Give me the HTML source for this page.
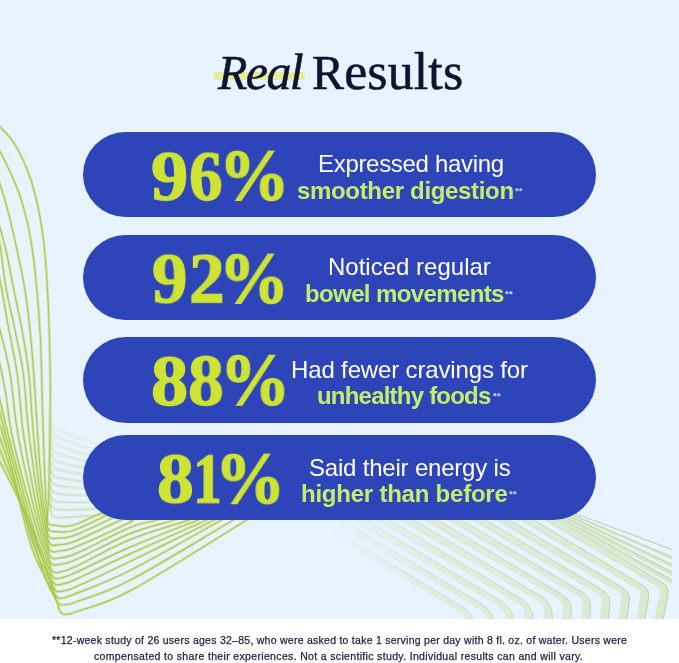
<!DOCTYPE html>
<html><head><meta charset="utf-8"><title>Real Results</title>
<style>
html,body{margin:0;padding:0;}
body{width:679px;height:663px;overflow:hidden;background:#fff;font-family:"Liberation Sans",sans-serif;position:relative;}
#bg{position:absolute;left:0;top:0;width:679px;height:619px;background:#e7f3fe;overflow:hidden;}
#deco{position:absolute;left:0;top:0;}
.pill{position:absolute;left:82.5px;width:513.7px;background:#2d45b8;border-radius:50px;}
.t{position:absolute;white-space:nowrap;line-height:1;transform-origin:0 0;will-change:transform;}
.g{font-family:"Liberation Serif",serif;font-weight:bold;color:#cee333;-webkit-text-stroke:1.4px #cee333;}
.l1{color:#fff;}
.l2{color:#c3ee6c;font-weight:bold;}
.st{color:#d5e0f7;font-weight:bold;}
.h{font-family:"Liberation Serif",serif;color:#0f1431;-webkit-text-stroke:0.55px #0f1431;}
.cap{font-size:0.923em;}
#foot{position:absolute;left:0;top:619px;width:679px;height:44px;background:#fff;}
.f{color:#1b2140;-webkit-text-stroke:0.25px #1b2140;}
</style></head><body>
<div id="bg">
<svg id="deco" width="679" height="619" viewBox="0 0 679 619"><g fill="none" stroke-linecap="round" stroke-linejoin="round">
<path d="M50.2,413.0C50.3,415.3 50.0,417.9 50.4,420.0C50.8,422.1 51.2,423.8 52.3,425.4C53.4,427.0 54.0,427.9 57.0,429.5C60.0,431.1 64.5,432.8 70.0,434.8C75.5,436.9 81.7,439.2 90.0,441.9C98.3,444.6 110.0,448.5 120.0,451.1C130.0,453.6 140.0,455.2 150.0,457.2" stroke="#b7d070" stroke-opacity="0.10" stroke-width="3.6"/>
<path d="M50.2,421.2C50.3,423.5 50.0,426.1 50.4,428.2C50.8,430.3 51.2,432.0 52.3,433.6C53.4,435.2 54.0,436.0 57.0,437.5C60.0,439.0 64.5,440.5 70.0,442.3C75.5,444.2 81.7,446.3 90.0,448.7C98.3,451.0 110.0,454.5 120.0,456.7C130.0,458.9 140.0,460.2 150.0,461.9" stroke="#b7d070" stroke-opacity="0.13" stroke-width="3.5"/>
<path d="M50.2,429.4C50.3,431.7 50.0,434.3 50.4,436.4C50.8,438.5 51.2,440.3 52.3,441.8C53.4,443.3 54.0,444.2 57.0,445.5C60.0,446.8 64.5,448.2 70.0,449.8C75.5,451.5 81.7,453.3 90.0,455.4C98.3,457.5 110.0,460.5 120.0,462.3C130.0,464.2 140.0,465.1 150.0,466.6" stroke="#b7d070" stroke-opacity="0.17" stroke-width="3.3"/>
<path d="M50.2,437.6C50.3,439.9 50.0,442.5 50.4,444.6C50.8,446.7 51.2,448.5 52.3,450.0C53.4,451.5 54.0,452.3 57.0,453.5C60.0,454.7 64.5,455.9 70.0,457.3C75.5,458.8 81.7,460.3 90.0,462.1C98.3,463.9 110.0,466.4 120.0,467.9C130.0,469.5 140.0,470.1 150.0,471.2" stroke="#b7d070" stroke-opacity="0.20" stroke-width="3.2"/>
<path d="M50.2,445.8C50.3,448.1 50.0,450.7 50.4,452.8C50.8,454.9 51.2,456.7 52.3,458.2C53.4,459.7 54.0,460.4 57.0,461.5C60.0,462.6 64.5,463.6 70.0,464.8C75.5,466.0 81.7,467.3 90.0,468.8C98.3,470.3 110.0,472.4 120.0,473.6C130.0,474.7 140.0,475.1 150.0,475.9" stroke="#b7d070" stroke-opacity="0.23" stroke-width="3.0"/>
<path d="M50.2,454.0C50.3,456.3 50.0,458.9 50.4,461.0C50.8,463.1 51.2,465.0 52.3,466.4C53.4,467.8 54.0,468.5 57.0,469.5C60.0,470.5 64.5,471.3 70.0,472.3C75.5,473.3 81.7,474.4 90.0,475.5C98.3,476.7 110.0,478.3 120.0,479.2C130.0,480.0 140.0,480.1 150.0,480.6" stroke="#b7d070" stroke-opacity="0.26" stroke-width="2.9"/>
<path d="M50.2,462.2C50.3,464.5 50.0,467.1 50.4,469.2C50.8,471.3 51.2,473.2 52.3,474.6C53.4,476.0 54.0,476.7 57.0,477.5C60.0,478.4 64.5,479.0 70.0,479.8C75.5,480.6 81.7,481.4 90.0,482.2C98.3,483.1 110.0,484.3 120.0,484.8C130.0,485.3 140.0,485.1 150.0,485.3" stroke="#b7d070" stroke-opacity="0.30" stroke-width="2.7"/>
<path d="M50.2,470.4C50.3,472.7 50.0,475.3 50.4,477.4C50.8,479.5 51.2,481.4 52.3,482.8C53.4,484.2 54.0,484.8 57.0,485.5C60.0,486.3 64.5,486.7 70.0,487.3C75.5,487.9 81.7,488.4 90.0,488.9C98.3,489.5 110.0,490.2 120.0,490.4C130.0,490.6 140.0,490.1 150.0,490.0" stroke="#b7d070" stroke-opacity="0.33" stroke-width="2.6"/>
<path d="M50.2,478.6C50.3,480.9 50.0,483.5 50.4,485.6C50.8,487.7 51.2,489.7 52.3,491.0C53.4,492.3 54.0,492.9 57.0,493.5C60.0,494.2 64.5,494.5 70.0,494.8C75.5,495.2 81.7,495.5 90.0,495.7C98.3,495.9 110.0,496.2 120.0,496.0C130.0,495.9 140.0,495.1 150.0,494.7" stroke="#b7d070" stroke-opacity="0.36" stroke-width="2.4"/>
<path d="M50.2,486.8C50.3,489.1 50.0,491.7 50.4,493.8C50.8,495.9 51.2,497.9 52.3,499.2C53.4,500.5 54.0,501.0 57.0,501.5C60.0,502.1 64.5,502.2 70.0,502.3C75.5,502.4 81.7,502.5 90.0,502.4C98.3,502.3 110.0,502.2 120.0,501.7C130.0,501.2 140.0,500.1 150.0,499.3" stroke="#b7d070" stroke-opacity="0.39" stroke-width="2.3"/>
<path d="M50.2,495.0C50.3,497.3 50.0,499.9 50.4,502.0C50.8,504.1 51.2,506.1 52.3,507.4C53.4,508.7 54.0,509.1 57.0,509.5C60.0,509.9 64.5,509.9 70.0,509.8C75.5,509.7 81.7,509.5 90.0,509.1C98.3,508.7 110.0,508.1 120.0,507.3C130.0,506.4 140.0,505.1 150.0,504.0" stroke="#b7d070" stroke-opacity="0.43" stroke-width="2.1"/>
<path d="M50.2,503.2C50.3,505.5 50.0,508.1 50.4,510.2C50.8,512.3 51.2,514.4 52.3,515.6C53.4,516.8 54.0,517.3 57.0,517.6C60.0,517.8 64.5,517.6 70.0,517.3C75.5,517.0 81.7,516.5 90.0,515.8C98.3,515.1 110.0,514.1 120.0,512.9C130.0,511.7 140.0,510.1 150.0,508.7" stroke="#b7d070" stroke-opacity="0.46" stroke-width="2.0"/>
<path d="M-4.0,454.0C-2.7,456.7 -5.1,451.8 0.0,462.0C5.1,472.2 20.5,502.0 26.5,515.0C32.5,528.0 32.1,529.2 36.0,540.0C39.9,550.8 46.3,570.3 49.6,580.0C52.9,589.7 53.5,592.3 55.6,598.0C57.7,603.7 60.1,608.9 62.4,614.3L60.2,604.5 L58.7,598.4 L57.0,591.6 L55.6,585.0 L54.9,578.8L54.9,578.8C47.9,562.5 41.6,553.1 34.0,530.0C26.4,506.9 15.2,461.7 9.5,440.0C3.8,418.3 2.2,408.3 0.0,400.0C-2.2,391.7 -2.7,393.3 -4.0,390.0Z" fill="#c3dc6e" fill-opacity="0.32" stroke="none"/>
<path d="M-4.0,123.5C-2.7,124.7 -3.0,123.8 0.0,127.0C3.0,130.2 9.5,135.9 14.0,143.0C18.5,150.1 23.4,160.1 27.1,169.3C30.8,178.5 33.3,186.2 36.0,198.0C38.7,209.8 41.5,223.0 43.5,240.0C45.5,257.0 46.9,277.5 48.0,300.0C49.1,322.5 49.9,351.7 50.2,375.0C50.5,398.3 50.1,420.0 49.8,440.0C49.5,460.0 49.0,481.9 48.6,495.0C48.2,508.1 47.7,510.6 47.2,518.4Q46.8,525.4 53.8,525.2C60.9,525.0 62.5,528.9 75.2,524.5C87.9,520.1 114.2,506.2 130.0,499.0C145.8,491.8 156.7,487.0 170.0,481.0" stroke="#cbe274" stroke-opacity="0.55" stroke-width="3.0"/>
<path d="M-5.0,145.0C-3.3,147.2 -2.7,146.8 0.0,151.6C2.7,156.4 7.7,166.8 11.0,174.0C14.3,181.2 16.7,185.7 19.7,195.0C22.7,204.3 26.4,216.7 29.0,230.0C31.6,243.3 33.6,256.7 35.5,275.0C37.4,293.3 39.3,317.5 40.5,340.0C41.7,362.5 41.7,384.2 42.5,410.0C43.3,435.8 44.7,475.8 45.5,495.0C46.3,514.2 46.7,515.1 47.3,525.2Q47.7,532.2 54.7,531.6C61.5,531.0 62.6,534.4 75.2,529.8C87.8,525.2 114.2,511.3 130.0,504.0C145.8,496.7 156.7,492.0 170.0,486.0" stroke="#cbe274" stroke-opacity="0.55" stroke-width="3.0"/>
<path d="M-4.0,176.0C-2.7,178.7 -2.2,177.7 0.0,184.2C2.2,190.7 6.2,204.0 9.0,215.0C11.8,226.0 14.3,237.5 17.0,250.0C19.7,262.5 22.7,275.0 25.0,290.0C27.3,305.0 29.2,321.7 31.0,340.0C32.8,358.3 34.2,380.8 35.5,400.0C36.8,419.2 37.8,438.3 39.0,455.0C40.2,471.7 41.6,487.1 43.0,500.0C44.4,512.9 46.0,521.8 47.5,532.7Q48.4,539.6 55.3,538.4C61.9,537.3 62.8,539.9 75.2,535.1C87.6,530.3 114.2,516.9 130.0,509.6C145.8,502.4 156.7,497.6 170.0,491.6" stroke="#cbe274" stroke-opacity="0.55" stroke-width="3.0"/>
<path d="M-4.0,218.0C-2.7,221.2 -1.8,221.4 0.0,227.6C1.8,233.8 4.8,244.9 7.0,255.0C9.2,265.1 11.0,275.5 13.5,288.0C16.0,300.5 19.4,315.5 22.0,330.0C24.6,344.5 27.1,357.5 29.0,375.0C30.9,392.5 31.4,413.3 33.5,435.0C35.6,456.7 39.1,487.5 41.5,505.0C43.9,522.5 45.8,528.1 47.9,539.7Q49.2,546.6 56.0,545.2C62.4,543.8 62.9,546.0 75.2,541.1C87.5,536.2 114.2,522.9 130.0,515.6C145.8,508.4 156.7,503.6 170.0,497.6" stroke="#cbe274" stroke-opacity="0.55" stroke-width="3.0"/>
<path d="M-4.0,235.0C-2.7,238.3 -1.7,236.2 0.0,245.0C1.7,253.8 3.5,273.8 6.0,288.0C8.5,302.2 12.1,315.5 15.0,330.0C17.9,344.5 21.2,357.5 23.5,375.0C25.8,392.5 26.2,412.5 29.0,435.0C31.8,457.5 36.8,491.4 40.0,510.0C43.2,528.6 45.5,534.3 48.3,546.5Q49.8,553.3 56.6,551.6C62.8,550.1 63.0,552.0 75.2,547.1C87.4,542.2 120.6,526.8 130.0,522.3C139.4,517.8 124.8,523.7 131.8,520.0C138.8,516.3 158.5,506.7 171.8,500.0" stroke="#cbe274" stroke-opacity="0.55" stroke-width="3.0"/>
<path d="M-4.0,268.0C-2.7,272.0 -2.0,270.5 0.0,280.0C2.0,289.5 5.1,309.2 8.0,325.0C10.9,340.8 14.8,356.7 17.4,375.0C20.0,393.3 20.1,411.7 23.6,435.0C27.1,458.3 34.3,495.3 38.5,515.0C42.7,534.7 45.4,540.6 48.9,553.3Q50.7,560.1 57.5,558.4C63.4,556.9 63.1,559.0 75.2,553.9C87.3,548.8 116.4,533.1 130.0,527.5C143.6,521.9 145.7,523.2 156.8,520.0C167.9,516.8 183.5,512.0 196.8,508.0" stroke="#cbe274" stroke-opacity="0.55" stroke-width="3.0"/>
<path d="M-4.0,318.0C-2.7,322.0 -2.4,320.5 0.0,330.0C2.4,339.5 7.3,357.5 10.3,375.0C13.3,392.5 13.6,410.8 18.0,435.0C22.4,459.2 31.8,499.2 37.0,520.0C42.2,540.8 45.2,546.6 49.3,559.9Q51.4,566.6 58.1,564.7C63.8,563.2 63.2,565.2 75.2,560.0C87.2,554.8 113.5,540.3 130.0,533.6C146.6,526.9 160.4,524.3 174.5,520.0C188.6,515.7 201.2,511.9 214.5,507.8" stroke="#cbe274" stroke-opacity="0.55" stroke-width="3.0"/>
<path d="M-4.0,352.0C-2.7,356.3 -1.7,357.8 0.0,365.0C1.7,372.2 3.8,382.5 6.0,395.0C8.2,407.5 8.1,418.3 13.0,440.0C17.9,461.7 29.3,503.7 35.5,525.0C41.7,546.3 45.5,553.5 50.5,567.8Q52.8,574.4 59.4,572.2C64.7,570.4 63.4,572.2 75.2,566.8C87.0,561.4 111.0,547.4 130.0,539.6C149.0,531.8 172.7,525.5 189.2,520.0C205.7,514.5 215.9,511.2 229.2,506.8" stroke="#cbe274" stroke-opacity="0.55" stroke-width="3.0"/>
<path d="M-4.0,390.0C-2.7,393.3 -2.2,391.7 0.0,400.0C2.2,408.3 3.8,418.3 9.5,440.0C15.2,461.7 27.1,507.7 34.0,530.0C40.9,552.3 45.4,559.3 51.2,573.9Q53.7,580.4 60.3,578.1C65.3,576.3 63.6,578.0 75.2,572.8C86.8,567.6 109.5,555.9 130.0,547.1C150.5,538.3 180.0,527.2 198.0,520.0C216.0,512.8 224.7,509.4 238.0,504.1" stroke="#cbe274" stroke-opacity="0.55" stroke-width="3.0"/>
<path d="M-4.0,403.0C-2.7,406.3 -1.8,406.8 0.0,413.0C1.8,419.2 1.5,419.7 7.0,440.0C12.5,460.3 25.5,511.6 33.0,535.0C40.5,558.4 45.5,565.1 51.7,580.1Q54.4,586.6 61.0,584.4C65.8,582.8 63.7,584.7 75.2,579.6C86.7,574.5 108.0,563.8 130.0,553.9C151.9,544.0 187.4,528.6 206.9,520.0C226.4,511.4 233.6,508.2 246.9,502.4" stroke="#cbe274" stroke-opacity="0.55" stroke-width="3.0"/>
<path d="M-4.0,417.0C-2.7,420.0 -1.4,422.2 0.0,426.0C1.4,429.8 -0.9,420.7 4.5,440.0C9.9,459.3 24.4,517.5 32.5,542.0C40.6,566.5 46.1,571.9 52.9,586.8Q55.8,593.2 62.5,591.1C66.7,589.8 63.9,592.0 75.2,587.1C86.5,582.2 106.8,572.7 130.0,561.5C153.2,550.3 193.6,530.2 214.3,520.0C235.0,509.8 241.0,506.9 254.3,500.3" stroke="#cbe274" stroke-opacity="0.55" stroke-width="3.0"/>
<path d="M-4.0,430.0C-2.7,432.7 -3.0,429.7 0.0,438.0C3.0,446.3 8.6,461.3 14.0,480.0C19.4,498.7 25.8,531.0 32.5,550.0C39.2,569.0 47.1,579.2 54.4,593.7Q57.5,600.0 64.1,597.7C67.8,596.4 64.2,598.4 75.2,593.9C86.2,589.4 105.6,582.8 130.0,570.5C154.4,558.2 199.7,532.1 221.6,520.0C243.5,507.9 248.3,505.3 261.6,497.9" stroke="#cbe274" stroke-opacity="0.55" stroke-width="3.0"/>
<path d="M-4.0,442.0C-2.7,444.7 -4.0,440.3 0.0,450.0C4.0,459.7 14.2,484.2 20.0,500.0C25.8,515.8 30.2,531.7 34.5,545.0C38.8,558.3 42.4,570.9 46.0,580.0C49.6,589.1 52.6,593.2 55.9,599.8Q59.0,606.1 65.8,604.5C68.9,603.7 64.5,606.2 75.2,602.2C85.9,598.2 103.6,594.0 130.0,580.3C156.4,566.6 209.5,533.9 233.4,520.0C257.3,506.1 260.1,504.4 273.4,496.7" stroke="#cbe274" stroke-opacity="0.55" stroke-width="3.0"/>
<path d="M-4.0,454.0C-2.7,456.7 -5.1,451.8 0.0,462.0C5.1,472.2 20.5,502.0 26.5,515.0C32.5,528.0 32.1,529.2 36.0,540.0C39.9,550.8 46.3,570.3 49.6,580.0C52.9,589.7 54.0,593.1 55.6,598.0C57.2,602.9 57.9,605.5 59.1,609.2Q61.2,615.9 67.9,614.0C70.4,613.3 64.9,615.9 75.2,612.0C85.5,608.1 101.4,606.2 130.0,590.9C158.6,575.6 220.6,535.9 246.7,520.0C272.8,504.1 273.4,503.8 286.7,495.7" stroke="#cbe274" stroke-opacity="0.55" stroke-width="3.0"/>
<path d="M-4.0,123.5C-2.7,124.7 -3.0,123.8 0.0,127.0C3.0,130.2 9.5,135.9 14.0,143.0C18.5,150.1 23.4,160.1 27.1,169.3C30.8,178.5 33.3,186.2 36.0,198.0C38.7,209.8 41.5,223.0 43.5,240.0C45.5,257.0 46.9,277.5 48.0,300.0C49.1,322.5 49.9,351.7 50.2,375.0C50.5,398.3 50.1,420.0 49.8,440.0C49.5,460.0 49.0,481.9 48.6,495.0C48.2,508.1 47.7,510.6 47.2,518.4Q46.8,525.4 53.8,525.2C60.9,525.0 62.5,528.9 75.2,524.5C87.9,520.1 114.2,506.2 130.0,499.0C145.8,491.8 156.7,487.0 170.0,481.0" stroke="#a5c24e" stroke-opacity="0.85" stroke-width="1.2"/>
<path d="M-5.0,145.0C-3.3,147.2 -2.7,146.8 0.0,151.6C2.7,156.4 7.7,166.8 11.0,174.0C14.3,181.2 16.7,185.7 19.7,195.0C22.7,204.3 26.4,216.7 29.0,230.0C31.6,243.3 33.6,256.7 35.5,275.0C37.4,293.3 39.3,317.5 40.5,340.0C41.7,362.5 41.7,384.2 42.5,410.0C43.3,435.8 44.7,475.8 45.5,495.0C46.3,514.2 46.7,515.1 47.3,525.2Q47.7,532.2 54.7,531.6C61.5,531.0 62.6,534.4 75.2,529.8C87.8,525.2 114.2,511.3 130.0,504.0C145.8,496.7 156.7,492.0 170.0,486.0" stroke="#a5c24e" stroke-opacity="0.85" stroke-width="1.2"/>
<path d="M-4.0,176.0C-2.7,178.7 -2.2,177.7 0.0,184.2C2.2,190.7 6.2,204.0 9.0,215.0C11.8,226.0 14.3,237.5 17.0,250.0C19.7,262.5 22.7,275.0 25.0,290.0C27.3,305.0 29.2,321.7 31.0,340.0C32.8,358.3 34.2,380.8 35.5,400.0C36.8,419.2 37.8,438.3 39.0,455.0C40.2,471.7 41.6,487.1 43.0,500.0C44.4,512.9 46.0,521.8 47.5,532.7Q48.4,539.6 55.3,538.4C61.9,537.3 62.8,539.9 75.2,535.1C87.6,530.3 114.2,516.9 130.0,509.6C145.8,502.4 156.7,497.6 170.0,491.6" stroke="#a5c24e" stroke-opacity="0.85" stroke-width="1.2"/>
<path d="M-4.0,218.0C-2.7,221.2 -1.8,221.4 0.0,227.6C1.8,233.8 4.8,244.9 7.0,255.0C9.2,265.1 11.0,275.5 13.5,288.0C16.0,300.5 19.4,315.5 22.0,330.0C24.6,344.5 27.1,357.5 29.0,375.0C30.9,392.5 31.4,413.3 33.5,435.0C35.6,456.7 39.1,487.5 41.5,505.0C43.9,522.5 45.8,528.1 47.9,539.7Q49.2,546.6 56.0,545.2C62.4,543.8 62.9,546.0 75.2,541.1C87.5,536.2 114.2,522.9 130.0,515.6C145.8,508.4 156.7,503.6 170.0,497.6" stroke="#a5c24e" stroke-opacity="0.85" stroke-width="1.2"/>
<path d="M-4.0,235.0C-2.7,238.3 -1.7,236.2 0.0,245.0C1.7,253.8 3.5,273.8 6.0,288.0C8.5,302.2 12.1,315.5 15.0,330.0C17.9,344.5 21.2,357.5 23.5,375.0C25.8,392.5 26.2,412.5 29.0,435.0C31.8,457.5 36.8,491.4 40.0,510.0C43.2,528.6 45.5,534.3 48.3,546.5Q49.8,553.3 56.6,551.6C62.8,550.1 63.0,552.0 75.2,547.1C87.4,542.2 120.6,526.8 130.0,522.3C139.4,517.8 124.8,523.7 131.8,520.0C138.8,516.3 158.5,506.7 171.8,500.0" stroke="#a5c24e" stroke-opacity="0.85" stroke-width="1.2"/>
<path d="M-4.0,268.0C-2.7,272.0 -2.0,270.5 0.0,280.0C2.0,289.5 5.1,309.2 8.0,325.0C10.9,340.8 14.8,356.7 17.4,375.0C20.0,393.3 20.1,411.7 23.6,435.0C27.1,458.3 34.3,495.3 38.5,515.0C42.7,534.7 45.4,540.6 48.9,553.3Q50.7,560.1 57.5,558.4C63.4,556.9 63.1,559.0 75.2,553.9C87.3,548.8 116.4,533.1 130.0,527.5C143.6,521.9 145.7,523.2 156.8,520.0C167.9,516.8 183.5,512.0 196.8,508.0" stroke="#a5c24e" stroke-opacity="0.85" stroke-width="1.2"/>
<path d="M-4.0,318.0C-2.7,322.0 -2.4,320.5 0.0,330.0C2.4,339.5 7.3,357.5 10.3,375.0C13.3,392.5 13.6,410.8 18.0,435.0C22.4,459.2 31.8,499.2 37.0,520.0C42.2,540.8 45.2,546.6 49.3,559.9Q51.4,566.6 58.1,564.7C63.8,563.2 63.2,565.2 75.2,560.0C87.2,554.8 113.5,540.3 130.0,533.6C146.6,526.9 160.4,524.3 174.5,520.0C188.6,515.7 201.2,511.9 214.5,507.8" stroke="#a5c24e" stroke-opacity="0.85" stroke-width="1.2"/>
<path d="M-4.0,352.0C-2.7,356.3 -1.7,357.8 0.0,365.0C1.7,372.2 3.8,382.5 6.0,395.0C8.2,407.5 8.1,418.3 13.0,440.0C17.9,461.7 29.3,503.7 35.5,525.0C41.7,546.3 45.5,553.5 50.5,567.8Q52.8,574.4 59.4,572.2C64.7,570.4 63.4,572.2 75.2,566.8C87.0,561.4 111.0,547.4 130.0,539.6C149.0,531.8 172.7,525.5 189.2,520.0C205.7,514.5 215.9,511.2 229.2,506.8" stroke="#a5c24e" stroke-opacity="0.85" stroke-width="1.2"/>
<path d="M-4.0,390.0C-2.7,393.3 -2.2,391.7 0.0,400.0C2.2,408.3 3.8,418.3 9.5,440.0C15.2,461.7 27.1,507.7 34.0,530.0C40.9,552.3 45.4,559.3 51.2,573.9Q53.7,580.4 60.3,578.1C65.3,576.3 63.6,578.0 75.2,572.8C86.8,567.6 109.5,555.9 130.0,547.1C150.5,538.3 180.0,527.2 198.0,520.0C216.0,512.8 224.7,509.4 238.0,504.1" stroke="#a5c24e" stroke-opacity="0.85" stroke-width="1.2"/>
<path d="M-4.0,403.0C-2.7,406.3 -1.8,406.8 0.0,413.0C1.8,419.2 1.5,419.7 7.0,440.0C12.5,460.3 25.5,511.6 33.0,535.0C40.5,558.4 45.5,565.1 51.7,580.1Q54.4,586.6 61.0,584.4C65.8,582.8 63.7,584.7 75.2,579.6C86.7,574.5 108.0,563.8 130.0,553.9C151.9,544.0 187.4,528.6 206.9,520.0C226.4,511.4 233.6,508.2 246.9,502.4" stroke="#a5c24e" stroke-opacity="0.85" stroke-width="1.2"/>
<path d="M-4.0,417.0C-2.7,420.0 -1.4,422.2 0.0,426.0C1.4,429.8 -0.9,420.7 4.5,440.0C9.9,459.3 24.4,517.5 32.5,542.0C40.6,566.5 46.1,571.9 52.9,586.8Q55.8,593.2 62.5,591.1C66.7,589.8 63.9,592.0 75.2,587.1C86.5,582.2 106.8,572.7 130.0,561.5C153.2,550.3 193.6,530.2 214.3,520.0C235.0,509.8 241.0,506.9 254.3,500.3" stroke="#a5c24e" stroke-opacity="0.85" stroke-width="1.2"/>
<path d="M-4.0,430.0C-2.7,432.7 -3.0,429.7 0.0,438.0C3.0,446.3 8.6,461.3 14.0,480.0C19.4,498.7 25.8,531.0 32.5,550.0C39.2,569.0 47.1,579.2 54.4,593.7Q57.5,600.0 64.1,597.7C67.8,596.4 64.2,598.4 75.2,593.9C86.2,589.4 105.6,582.8 130.0,570.5C154.4,558.2 199.7,532.1 221.6,520.0C243.5,507.9 248.3,505.3 261.6,497.9" stroke="#a5c24e" stroke-opacity="0.85" stroke-width="1.2"/>
<path d="M-4.0,442.0C-2.7,444.7 -4.0,440.3 0.0,450.0C4.0,459.7 14.2,484.2 20.0,500.0C25.8,515.8 30.2,531.7 34.5,545.0C38.8,558.3 42.4,570.9 46.0,580.0C49.6,589.1 52.6,593.2 55.9,599.8Q59.0,606.1 65.8,604.5C68.9,603.7 64.5,606.2 75.2,602.2C85.9,598.2 103.6,594.0 130.0,580.3C156.4,566.6 209.5,533.9 233.4,520.0C257.3,506.1 260.1,504.4 273.4,496.7" stroke="#a5c24e" stroke-opacity="0.85" stroke-width="1.2"/>
<path d="M-4.0,454.0C-2.7,456.7 -5.1,451.8 0.0,462.0C5.1,472.2 20.5,502.0 26.5,515.0C32.5,528.0 32.1,529.2 36.0,540.0C39.9,550.8 46.3,570.3 49.6,580.0C52.9,589.7 54.0,593.1 55.6,598.0C57.2,602.9 57.9,605.5 59.1,609.2Q61.2,615.9 67.9,614.0C70.4,613.3 64.9,615.9 75.2,612.0C85.5,608.1 101.4,606.2 130.0,590.9C158.6,575.6 220.6,535.9 246.7,520.0C272.8,504.1 273.4,503.8 286.7,495.7" stroke="#a5c24e" stroke-opacity="0.85" stroke-width="1.2"/>
<clipPath id="rc"><rect x="300" y="500" width="372" height="119"/></clipPath>
<linearGradient id="rf" gradientUnits="userSpaceOnUse" x1="330" y1="0" x2="660" y2="0"><stop offset="0" stop-color="#fff" stop-opacity="0"/><stop offset="0.3" stop-color="#fff" stop-opacity="0.6"/><stop offset="1" stop-color="#fff" stop-opacity="1"/></linearGradient>
<mask id="rm" maskUnits="userSpaceOnUse" x="300" y="500" width="380" height="120"><rect x="300" y="500" width="380" height="120" fill="url(#rf)"/></mask>
<g clip-path="url(#rc)"><g mask="url(#rm)">
<path d="M524.5,500.0L662.6,582.9Q669.5,587.0 667.9,594.8L655.8,655.6L647.4,654.0L659.8,592.1Q660.5,588.6 657.4,586.8L521.4,505.1Z" fill="#d3e5b9" fill-opacity="0.7" stroke="none"/>
<path d="M524.5,500.0L662.6,582.9Q669.5,587.0 667.9,594.8L655.8,655.6" stroke="#b5cf8e" stroke-opacity="0.85" stroke-width="1.0"/>
<path d="M500.5,500.0L642.5,585.2Q650.0,589.7 648.5,598.4L638.3,658.7L629.9,657.3L640.4,595.3Q641.1,591.4 637.7,589.3L497.4,505.1Z" fill="#d3e5b9" fill-opacity="0.7" stroke="none"/>
<path d="M500.5,500.0L642.5,585.2Q650.0,589.7 648.5,598.4L638.3,658.7" stroke="#b5cf8e" stroke-opacity="0.85" stroke-width="1.0"/>
<path d="M476.5,500.0L622.3,587.5Q630.5,592.4 629.2,601.9L620.8,661.7L612.4,660.5L621.1,598.4Q621.7,594.1 618.0,591.9L473.4,505.1Z" fill="#d3e5b9" fill-opacity="0.7" stroke="none"/>
<path d="M476.5,500.0L622.3,587.5Q630.5,592.4 629.2,601.9L620.8,661.7" stroke="#b5cf8e" stroke-opacity="0.85" stroke-width="1.0"/>
<path d="M452.5,500.0L602.1,589.7Q611.0,595.1 609.9,605.4L603.3,664.7L594.9,663.8L601.7,601.5Q602.3,596.9 598.2,594.4L449.4,505.1Z" fill="#d3e5b9" fill-opacity="0.7" stroke="none"/>
<path d="M452.5,500.0L602.1,589.7Q611.0,595.1 609.9,605.4L603.3,664.7" stroke="#b5cf8e" stroke-opacity="0.85" stroke-width="1.0"/>
<path d="M428.5,500.0L581.9,592.0Q591.5,597.8 590.6,609.0L585.9,667.6L577.4,666.9L582.4,604.6Q582.8,599.6 578.5,597.0L425.4,505.1Z" fill="#d3e5b9" fill-opacity="0.7" stroke="none"/>
<path d="M428.5,500.0L581.9,592.0Q591.5,597.8 590.6,609.0L585.9,667.6" stroke="#b5cf8e" stroke-opacity="0.85" stroke-width="1.0"/>
<path d="M404.5,500.0L561.7,594.3Q572.0,600.5 571.4,612.5L568.5,670.4L560.0,670.0L563.1,607.7Q563.4,602.3 558.8,599.6L401.4,505.1Z" fill="#d3e5b9" fill-opacity="0.7" stroke="none"/>
<path d="M404.5,500.0L561.7,594.3Q572.0,600.5 571.4,612.5L568.5,670.4" stroke="#b5cf8e" stroke-opacity="0.85" stroke-width="1.0"/>
<path d="M380.5,500.0L541.5,596.6Q552.5,603.2 552.2,616.0L551.1,673.2L542.6,673.0L543.8,610.8Q544.0,605.1 539.0,602.1L377.4,505.1Z" fill="#d3e5b9" fill-opacity="0.7" stroke="none"/>
<path d="M380.5,500.0L541.5,596.6Q552.5,603.2 552.2,616.0L551.1,673.2" stroke="#b5cf8e" stroke-opacity="0.85" stroke-width="1.0"/>
<path d="M356.5,500.0L521.3,598.9Q533.0,605.9 533.1,619.5L533.7,675.9L525.2,676.0L524.6,613.9Q524.5,607.8 519.3,604.7L353.4,505.1Z" fill="#d3e5b9" fill-opacity="0.7" stroke="none"/>
<path d="M356.5,500.0L521.3,598.9Q533.0,605.9 533.1,619.5L533.7,675.9" stroke="#b5cf8e" stroke-opacity="0.85" stroke-width="1.0"/>
<path d="M332.5,500.0L501.2,601.2Q513.5,608.6 514.1,623.0L516.3,678.5L507.8,678.9L505.3,617.0Q505.1,610.5 499.5,607.2L329.4,505.1Z" fill="#d3e5b9" fill-opacity="0.7" stroke="none"/>
<path d="M332.5,500.0L501.2,601.2Q513.5,608.6 514.1,623.0L516.3,678.5" stroke="#b5cf8e" stroke-opacity="0.85" stroke-width="1.0"/>
<path d="M308.5,500.0L481.0,603.5Q494.0,611.3 495.1,626.5L498.9,681.1L490.4,681.7L486.1,620.1Q485.6,613.3 479.8,609.7L305.4,505.1Z" fill="#d3e5b9" fill-opacity="0.7" stroke="none"/>
<path d="M308.5,500.0L481.0,603.5Q494.0,611.3 495.1,626.5L498.9,681.1" stroke="#b5cf8e" stroke-opacity="0.85" stroke-width="1.0"/>
<path d="M284.5,500.0L460.8,605.8Q474.5,614.0 476.1,629.9L481.5,683.7L473.0,684.5L466.9,623.2Q466.2,616.0 460.0,612.3L281.4,505.1Z" fill="#d3e5b9" fill-opacity="0.7" stroke="none"/>
<path d="M284.5,500.0L460.8,605.8Q474.5,614.0 476.1,629.9L481.5,683.7" stroke="#b5cf8e" stroke-opacity="0.85" stroke-width="1.0"/>
<linearGradient id="sf" gradientUnits="userSpaceOnUse" x1="0" y1="518" x2="0" y2="574"><stop offset="0" stop-color="#fff" stop-opacity="1"/><stop offset="1" stop-color="#fff" stop-opacity="0"/></linearGradient>
<mask id="sm" maskUnits="userSpaceOnUse" x="300" y="500" width="380" height="120"><rect x="300" y="500" width="380" height="120" fill="url(#sf)"/></mask>
<g mask="url(#sm)">
<path d="M512.5,500.0L637.7,575.1" stroke="#c2d9a0" stroke-opacity="0.7" stroke-width="1.8"/>
<path d="M488.5,500.0L617.5,577.4" stroke="#c2d9a0" stroke-opacity="0.7" stroke-width="1.8"/>
<path d="M464.5,500.0L597.3,579.7" stroke="#c2d9a0" stroke-opacity="0.7" stroke-width="1.8"/>
<path d="M440.5,500.0L577.1,582.0" stroke="#c2d9a0" stroke-opacity="0.7" stroke-width="1.8"/>
<path d="M416.5,500.0L557.0,584.3" stroke="#c2d9a0" stroke-opacity="0.7" stroke-width="1.8"/>
<path d="M392.5,500.0L536.8,586.6" stroke="#c2d9a0" stroke-opacity="0.7" stroke-width="1.8"/>
<path d="M368.5,500.0L516.6,588.9" stroke="#c2d9a0" stroke-opacity="0.7" stroke-width="1.8"/>
<path d="M344.5,500.0L496.4,591.2" stroke="#c2d9a0" stroke-opacity="0.7" stroke-width="1.8"/>
<path d="M320.5,500.0L476.3,593.5" stroke="#c2d9a0" stroke-opacity="0.7" stroke-width="1.8"/>
<path d="M296.5,500.0L456.1,595.8" stroke="#c2d9a0" stroke-opacity="0.7" stroke-width="1.8"/>
</g>
<path d="M556.5,506.5L673.0,550.0" stroke="#a9c67a" stroke-opacity="0.9" stroke-width="0.9"/>
<path d="M553.6,506.6L673.0,557.5" stroke="#d3e5b9" stroke-opacity="0.75" stroke-width="1.7" transform="translate(-0.6,1.1)"/>
<path d="M553.6,506.6L673.0,557.5" stroke="#a9c67a" stroke-opacity="0.9" stroke-width="0.9"/>
<path d="M549.9,507.0L673.0,565.0" stroke="#d3e5b9" stroke-opacity="0.75" stroke-width="2.4" transform="translate(-0.6,1.5)"/>
<path d="M549.9,507.0L673.0,565.0" stroke="#a9c67a" stroke-opacity="0.9" stroke-width="0.9"/>
<path d="M545.5,507.1L673.0,572.5" stroke="#d3e5b9" stroke-opacity="0.75" stroke-width="3.1" transform="translate(-0.6,1.8)"/>
<path d="M545.5,507.1L673.0,572.5" stroke="#a9c67a" stroke-opacity="0.9" stroke-width="0.9"/>
<path d="M540.5,506.8L673.0,580.5" stroke="#d3e5b9" stroke-opacity="0.75" stroke-width="3.8" transform="translate(-0.6,2.2)"/>
<path d="M540.5,506.8L673.0,580.5" stroke="#a9c67a" stroke-opacity="0.9" stroke-width="0.9"/>
</g></g>
</g></svg>
</div>

<div style="position:absolute;left:213.5px;top:71.5px;width:91px;height:8px;background:#e3ee9c;border-radius:2px;filter:blur(0.6px)"></div>
<div class="title">
<div class="t h" id="h0" style="left:218.00px;top:47.31px;font-size:50.00px;letter-spacing:-1.561px;"><i><span style="font-size:0.96em">R</span>eal</i></div>
<div class="t h" id="h1" style="left:312.40px;top:46.31px;font-size:52.00px;letter-spacing:0.119px;"><span class="cap">R</span>esults</div>
</div>
<div class="row">
<div class="pill" style="top:132.0px;height:85.4px"></div>
<div class="num">
<div class="t g" id="n00" style="left:150.58px;top:142.12px;font-size:73.00px;transform:scale(1.0183,0.9481);">9</div>
<div class="t g" id="n01" style="left:188.53px;top:142.06px;font-size:73.00px;transform:scale(0.9205,0.9496);">6</div>
<div class="t g" id="n02" style="left:219.19px;top:139.93px;font-size:73.00px;transform:scale(0.9645,0.9845);">%</div>
</div>
<div class="t l1" id="a0" style="left:317.91px;top:152.21px;font-size:24.00px;letter-spacing:-0.306px;">Expressed having</div>
<div class="t l2" id="b0" style="left:297.18px;top:178.91px;font-size:24.00px;letter-spacing:-0.330px;">smoother digestion</div>
<div class="t st" id="s0" style="left:514.82px;top:188.10px;font-size:10.00px;transform:scale(0.9483,0.7918);">**</div>
</div>
<div class="row">
<div class="pill" style="top:235.2px;height:85.1px"></div>
<div class="num">
<div class="t g" id="n10" style="left:152.03px;top:244.26px;font-size:73.00px;transform:scale(0.9706,0.9581);">9</div>
<div class="t g" id="n11" style="left:188.64px;top:243.71px;font-size:73.00px;transform:scale(0.9771,0.9553);">2</div>
<div class="t g" id="n12" style="left:219.16px;top:242.98px;font-size:73.00px;transform:scale(0.9579,0.9845);">%</div>
</div>
<div class="t l1" id="a1" style="left:328.01px;top:255.40px;font-size:24.00px;letter-spacing:0.004px;">Noticed regular</div>
<div class="t l2" id="b1" style="left:305.47px;top:281.91px;font-size:24.00px;letter-spacing:-0.619px;">bowel movements</div>
<div class="t st" id="s1" style="left:505.28px;top:291.29px;font-size:10.00px;transform:scale(0.9991,0.7981);">**</div>
</div>
<div class="row">
<div class="pill" style="top:337.0px;height:85.5px"></div>
<div class="num">
<div class="t g" id="n20" style="left:150.52px;top:346.48px;font-size:73.00px;transform:scale(1.0188,0.9681);">8</div>
<div class="t g" id="n21" style="left:188.19px;top:345.27px;font-size:73.00px;transform:scale(0.9783,0.9811);">8</div>
<div class="t g" id="n22" style="left:220.09px;top:344.24px;font-size:73.00px;transform:scale(0.9607,0.9970);">%</div>
</div>
<div class="t l1" id="a2" style="left:291.06px;top:357.50px;font-size:24.00px;letter-spacing:-0.144px;">Had fewer cravings for</div>
<div class="t l2" id="b2" style="left:317.10px;top:384.41px;font-size:24.00px;letter-spacing:-0.787px;">unhealthy foods</div>
<div class="t st" id="s2" style="left:492.59px;top:392.92px;font-size:10.00px;transform:scale(0.9835,0.7953);">**</div>
</div>
<div class="row">
<div class="pill" style="top:434.5px;height:85.2px"></div>
<div class="num">
<div class="t g" id="n30" style="left:157.10px;top:444.25px;font-size:73.00px;transform:scale(1.0106,0.9587);">8</div>
<div class="t g" id="n31" style="left:192.90px;top:443.79px;font-size:73.00px;transform:scale(0.7897,0.9592);">1</div>
<div class="t g" id="n32" style="left:214.69px;top:442.88px;font-size:73.00px;transform:scale(0.9598,0.9873);">%</div>
</div>
<div class="t l1" id="a3" style="left:309.10px;top:455.51px;font-size:24.00px;letter-spacing:-0.198px;">Said their energy is</div>
<div class="t l2" id="b3" style="left:300.71px;top:482.41px;font-size:24.00px;letter-spacing:-0.229px;">higher than before</div>
<div class="t st" id="s3" style="left:509.44px;top:491.05px;font-size:10.00px;transform:scale(0.9835,0.7953);">**</div>
</div>
<div id="foot"></div>
<div class="note">
<div class="t f" id="f0" style="left:52.40px;top:635.22px;font-size:10.50px;letter-spacing:0.259px;">**12-week study of 26 users ages 32–85, who were asked to take 1 serving per day with 8 fl. oz. of water. Users were</div>
<div class="t f" id="f1" style="left:94.00px;top:650.60px;font-size:10.50px;letter-spacing:0.339px;">compensated to share their experiences. Not a scientific study. Individual results can and will vary.</div>
</div>
</body></html>
